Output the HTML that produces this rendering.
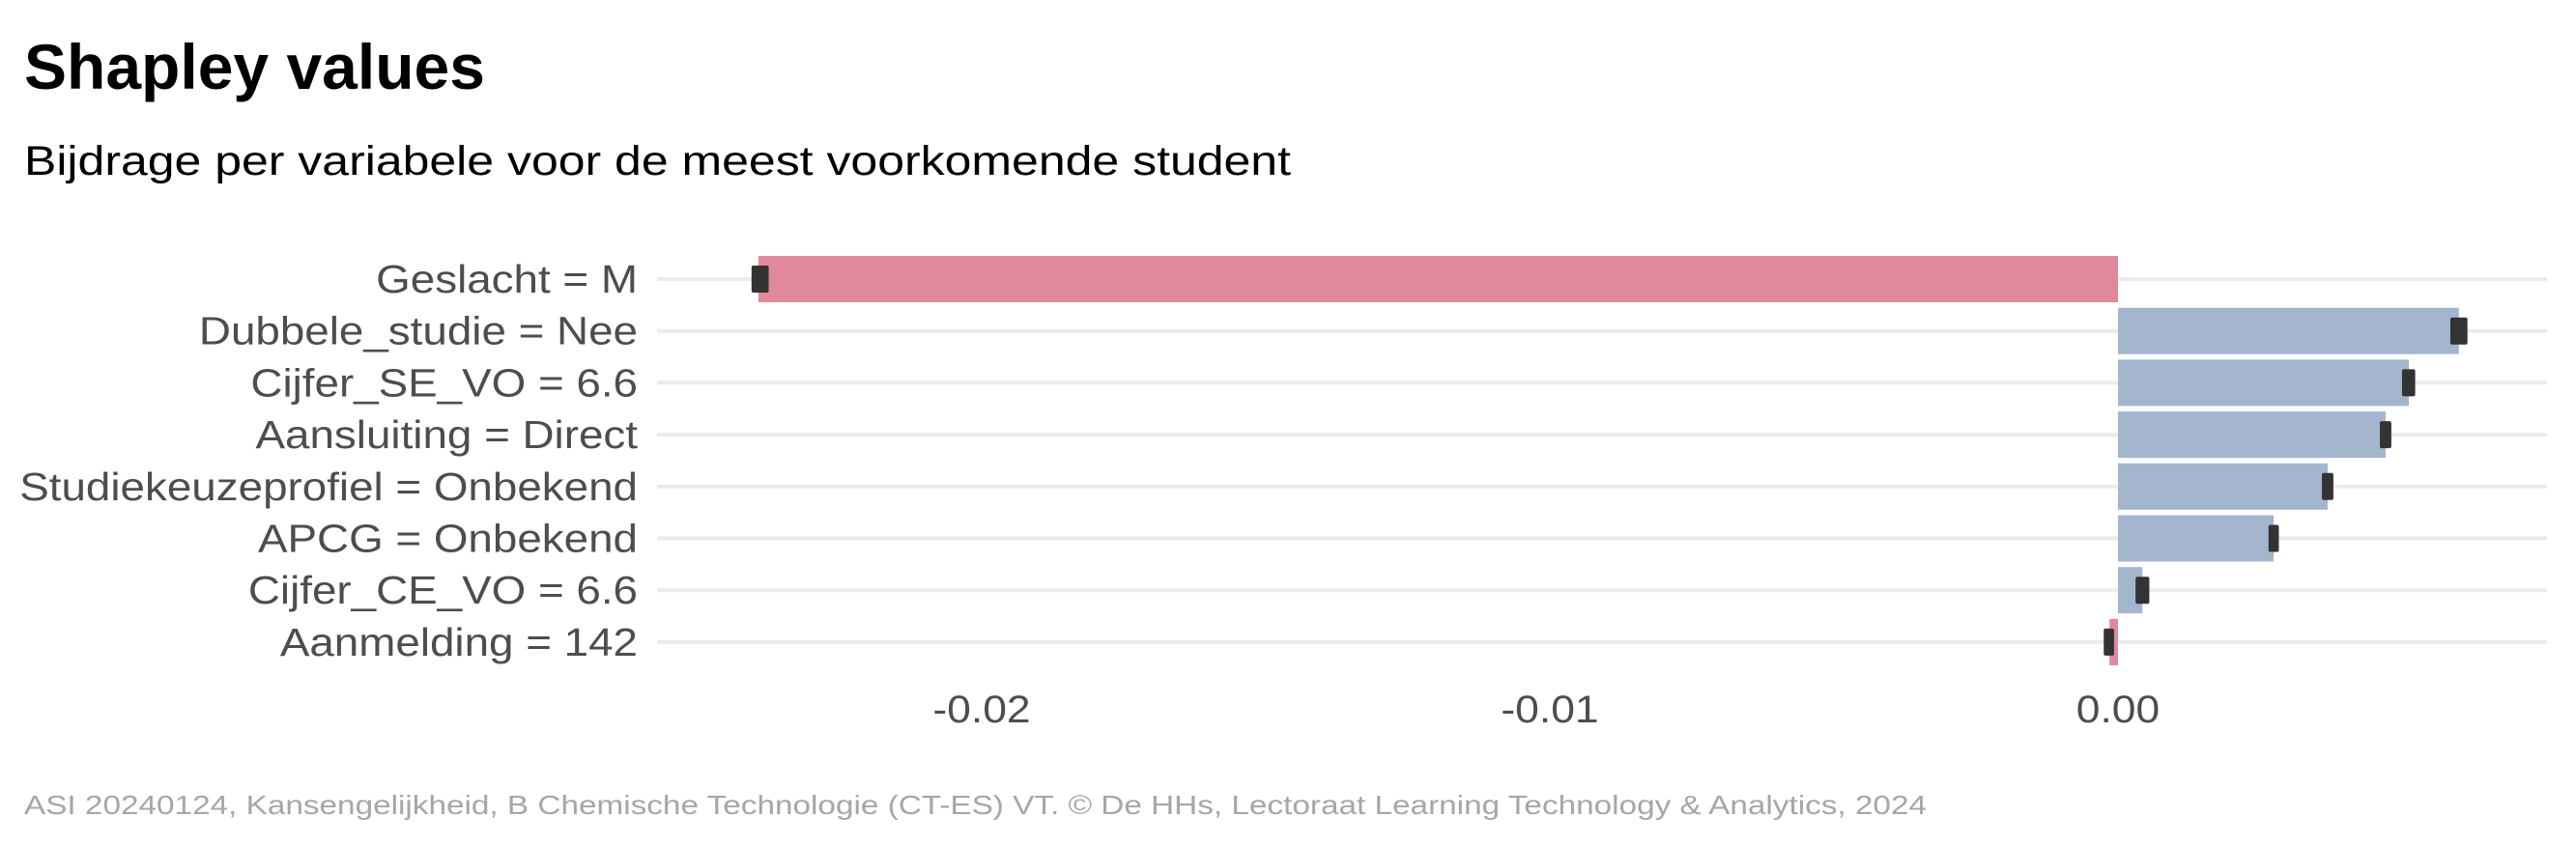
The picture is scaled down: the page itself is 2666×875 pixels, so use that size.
<!DOCTYPE html>
<html><head><meta charset="utf-8"><style>
html,body{margin:0;padding:0;background:#fff;}
svg{display:block;font-family:"Liberation Sans",Arial,sans-serif;}
</style></head><body>
<svg id="chart" width="2666" height="875" viewBox="0 0 2666 875" xmlns="http://www.w3.org/2000/svg">
<text x="25" y="92" font-size="66" font-weight="bold" fill="#000">Shapley values</text>
<text x="25" y="181" font-size="43" fill="#000" textLength="1311" lengthAdjust="spacingAndGlyphs">Bijdrage per variabele voor de meest voorkomende student</text>
<text x="25" y="843" font-size="28" fill="#a6a6a6" textLength="1969" lengthAdjust="spacingAndGlyphs">ASI 20240124, Kansengelijkheid, B Chemische Technologie (CT-ES) VT. © De HHs, Lectoraat Learning Technology &amp; Analytics, 2024</text>
<g id="grid"></g><g id="bars"></g><g id="errs"></g><g id="ylabels"></g><g id="xlabels"></g>
</svg>
<script>
const categories = ["Geslacht = M","Dubbele_studie = Nee","Cijfer_SE_VO = 6.6","Aansluiting = Direct","Studiekeuzeprofiel = Onbekend","APCG = Onbekend","Cijfer_CE_VO = 6.6","Aanmelding = 142"];
const values = [-0.02393, 0.00600, 0.00512, 0.00471, 0.00369, 0.00274, 0.00043, -0.00015];
const errLow = [-0.02400, 0.00590, 0.00505, 0.00466, 0.00364, 0.00270, 0.00036, -0.00020];
const errHigh = [-0.02380, 0.00610, 0.00518, 0.00476, 0.00374, 0.00278, 0.00050, -0.00012];
const xTicks = [-0.02, -0.01, 0.00];
const xTickLabels = ["-0.02", "-0.01", "0.00"];

const NS = "http://www.w3.org/2000/svg";
const x0 = 2192, pxPerUnit = 58800;
function xScale(v){ return x0 + v * pxPerUnit; }
function yScale(i){ return 289 + i * 53.7; }
const bandH = 48;
function mk(tag, attrs, parent){ const e = document.createElementNS(NS, tag); for (const k in attrs) e.setAttribute(k, attrs[k]); parent.appendChild(e); return e; }
function widen(t, f){ const w = t.getComputedTextLength(); t.setAttribute('textLength', w * f); t.setAttribute('lengthAdjust', 'spacingAndGlyphs'); }
const grid = document.getElementById('grid'), bars = document.getElementById('bars'), errs = document.getElementById('errs'), yl = document.getElementById('ylabels'), xl = document.getElementById('xlabels');

categories.forEach((c, i) => {
  const y = yScale(i);
  const g = mk('line', {x1: 680, x2: 2636, y1: y, y2: y, stroke: '#ebebeb', 'stroke-width': 4}, grid);
  
  
  const v = values[i];
  const xa = xScale(Math.min(0, v)), xb = xScale(Math.max(0, v));
  const r = mk('rect', {x: xa, y: y - bandH / 2, width: Math.max(1, xb - xa), height: bandH, fill: v < 0 ? '#e1899c' : '#a3b6cd'}, bars);
  
  
  const ea = xScale(errLow[i]), eb = xScale(errHigh[i]);
  const e = mk('rect', {x: Math.min(ea, eb) - 3, y: y - 14, width: Math.abs(eb - ea) + 6, height: 28, rx: 2, fill: '#333333'}, errs);
  
  
  const t = mk('text', {x: 660, y: y + 14, 'text-anchor': 'end', 'font-size': 41, fill: '#4d4d4d'}, yl);
  t.textContent = c;
  
  
  widen(t, 1.116);
});
xTicks.forEach((v, i) => {
  const t = mk('text', {x: xScale(v), y: 748, 'text-anchor': 'middle', 'font-size': 40, fill: '#4d4d4d'}, xl);
  t.textContent = xTickLabels[i];
  
  
  widen(t, 1.11);
});
</script>
</body></html>
